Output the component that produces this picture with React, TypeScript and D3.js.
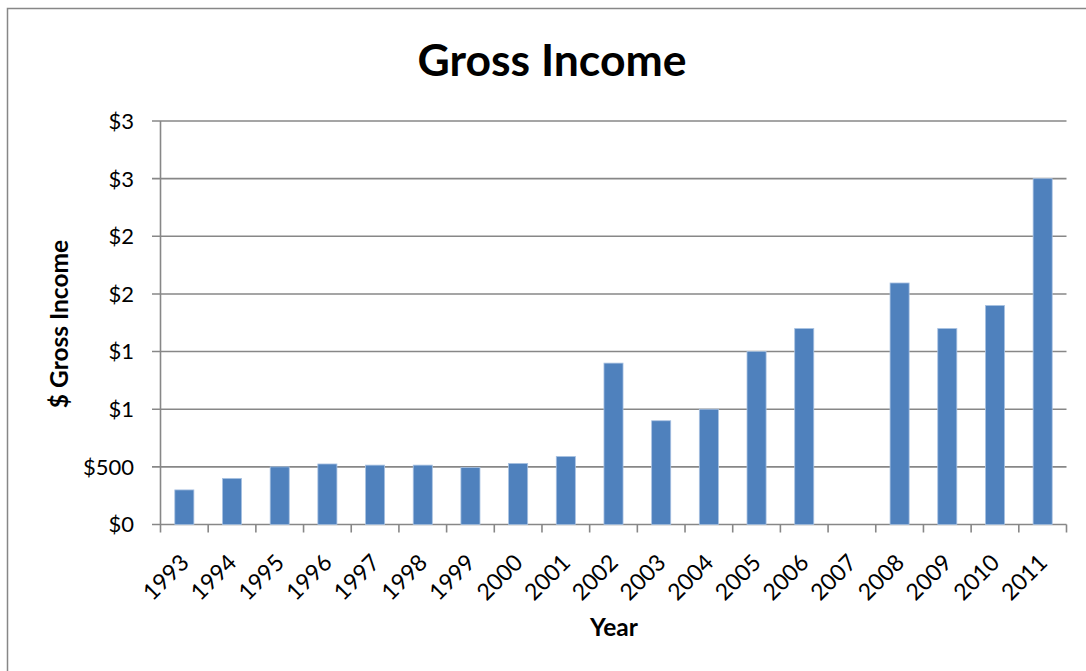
import React from "react";
import * as d3 from "d3";

const years = ["1993","1994","1995","1996","1997","1998","1999","2000","2001","2002","2003","2004","2005","2006","2007","2008","2009","2010","2011"];
const income = [300, 400, 500, 525, 515, 515, 495, 530, 590, 1400, 900, 1000, 1500, 1700, 0, 2095, 1700, 1900, 3000];
const yTickValues = [0, 500, 1000, 1500, 2000, 2500, 3000, 3500];
const yTickLabels = ["$0", "$500", "$1", "$1", "$2", "$2", "$3", "$3"];

const W = 1086, H = 671;
const left = 160.5, right = 1066.5, top = 121, bottom = 524.5;
const FONT = "Lato, 'Open Sans', sans-serif";
const GRID = "#878787";

export default function App() {
  const x = d3.scaleBand<string>().domain(years).range([left, right]).paddingInner(0.6).paddingOuter(0.3);
  const xOuter = d3.scaleBand<string>().domain(years).range([left, right]);
  const y = d3.scaleLinear().domain([0, 3500]).range([bottom, top]);
  return (
    <svg width={W} height={H} style={{ position: "absolute", left: 0, top: 0, background: "#fff" }}>
      <rect x={7.5} y={8.5} width={1200} height={800} fill="#fff" stroke={GRID} strokeWidth={1.5} />
      <text x={552} y={76} textAnchor="middle" fontFamily={FONT} fontWeight="bold" fontSize={44.5} fill="#000">Gross Income</text>
      {yTickValues.map((v, i) => (
        <g key={v}>
          <line x1={152} x2={right} y1={y(v)} y2={y(v)} stroke={GRID} strokeWidth={1.6} />
          <text x={134} y={y(v)} dy="0.36em" textAnchor="end" fontFamily={FONT} fontSize={22} fill="#000">{yTickLabels[i]}</text>
        </g>
      ))}
      <line x1={left} x2={left} y1={top} y2={bottom} stroke={GRID} strokeWidth={1.6} />
      {years.map((yr) => (
        <line key={yr} x1={xOuter(yr)! + xOuter.bandwidth()} x2={xOuter(yr)! + xOuter.bandwidth()} y1={bottom} y2={bottom + 8} stroke={GRID} strokeWidth={1.6} />
      ))}
      <line x1={left} x2={left} y1={bottom} y2={bottom + 8} stroke={GRID} strokeWidth={1.6} />
      {years.map((yr, i) => (
        income[i] > 0 ? (
          <rect key={yr} x={x(yr)} y={y(income[i])} width={x.bandwidth()} height={bottom - y(income[i])} fill="#4F81BD" stroke="#A9C2E2" strokeWidth={0.8} />
        ) : null
      ))}
      {years.map((yr) => {
        const cx = xOuter(yr)! + xOuter.bandwidth() / 2;
        return (
          <text key={yr} transform={`translate(${cx + 6},${564}) rotate(-45)`} textAnchor="end" fontFamily={FONT} fontSize={23} fill="#000">{yr}</text>
        );
      })}
      <text transform={`translate(68,324) rotate(-90)`} textAnchor="middle" fontFamily={FONT} fontWeight="bold" fontSize={24.5} fill="#000">$ Gross Income</text>
      <text x={614} y={636} textAnchor="middle" fontFamily={FONT} fontWeight="bold" fontSize={24.5} fill="#000">Year</text>
    </svg>
  );
}
